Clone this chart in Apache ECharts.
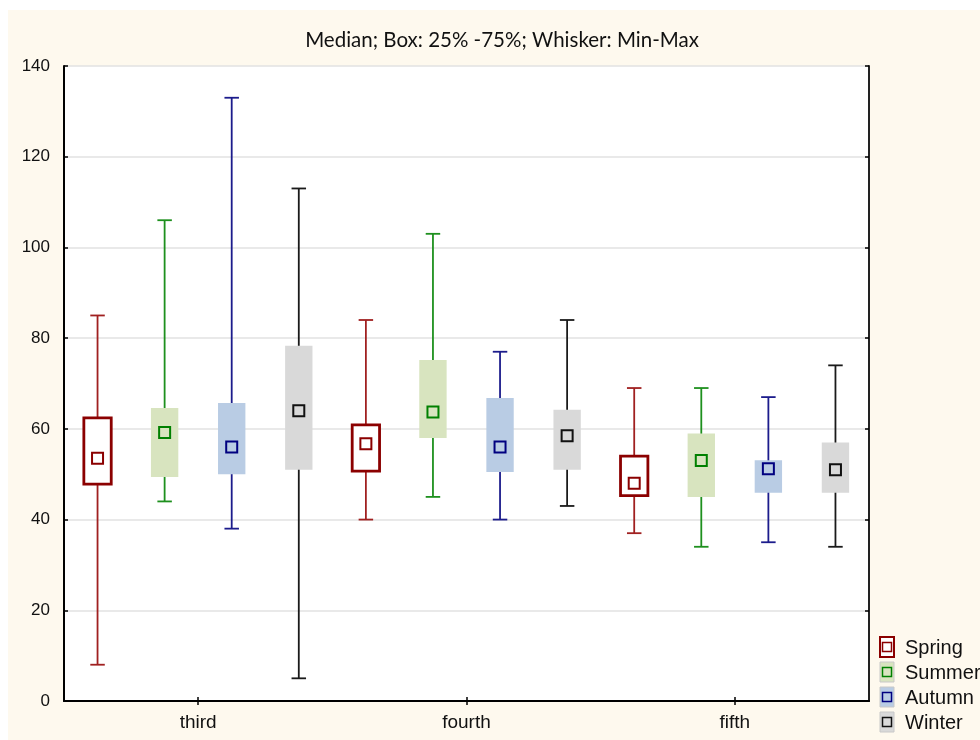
<!DOCTYPE html>
<html>
<head>
<meta charset="utf-8">
<script src="https://cdn.jsdelivr.net/npm/echarts@6/dist/echarts.min.js"></script>
<style>
  html, body { margin: 0; padding: 0; background: #ffffff; }
  #chart { width: 980px; height: 740px; }
</style>
</head>
<body>
<div id="chart"></div>
<script>
// Categories and tick labels
const categories = ['third', 'fourth', 'fifth'];
const yTicks = [0, 20, 40, 60, 80, 100, 120, 140];
const seasons = ['Spring', 'Summer', 'Autumn', 'Winter'];

// Each row: [min, q1, median, q3, max] for third, fourth, fifth
const spring = [
  [8, 47.8, 53.5, 62.4, 85],
  [40, 50.7, 56.7, 60.9, 84],
  [37, 45.3, 48, 54, 69]
];
const summer = [
  [44, 49.4, 59.2, 64.6, 106],
  [45, 58, 63.7, 75.2, 103],
  [34, 45, 53, 59, 69]
];
const autumn = [
  [38, 50, 56, 65.7, 133],
  [40, 50.5, 56, 66.8, 77],
  [35, 45.9, 51.2, 53.1, 67]
];
const winter = [
  [5, 51, 64, 78.3, 113],
  [43, 51, 58.5, 64.2, 84],
  [34, 45.9, 51, 57, 74]
];

const seriesData = [spring, summer, autumn, winter];

// Visual styles for each season
const styles = [
  { fill: '#ffffff', border: '#8b0000', borderWidth: 2.8, whisker: '#a02020', median: '#8b0000' },
  { fill: '#d8e4bf', border: null, borderWidth: 0, whisker: '#1e901e', median: '#008000' },
  { fill: '#b9cce4', border: null, borderWidth: 0, whisker: '#1c1c8c', median: '#000080' },
  { fill: '#d9d9d9', border: null, borderWidth: 0, whisker: '#1a1a1a', median: '#111111' }
];

function makeRenderer(idx) {
  const st = styles[idx];
  return function (params, api) {
    const cat = api.value(0);
    const band = api.size([1, 0])[0];
    const cx = api.coord([cat, 0])[0] + (idx - 1.5) * 0.25 * band;
    const yMin = api.coord([cat, api.value(1)])[1];
    const yQ1 = api.coord([cat, api.value(2)])[1];
    const yMed = api.coord([cat, api.value(3)])[1];
    const yQ3 = api.coord([cat, api.value(4)])[1];
    const yMax = api.coord([cat, api.value(5)])[1];
    const bw = band * 0.102;
    const cap = band * 0.054;
    const ms = 11;
    const lineStyle = { stroke: st.whisker, lineWidth: 1.8 };
    return {
      type: 'group',
      children: [
        { type: 'line', shape: { x1: cx, y1: yMax, x2: cx, y2: yMin }, style: lineStyle },
        { type: 'line', shape: { x1: cx - cap / 2, y1: yMax, x2: cx + cap / 2, y2: yMax }, style: lineStyle },
        { type: 'line', shape: { x1: cx - cap / 2, y1: yMin, x2: cx + cap / 2, y2: yMin }, style: lineStyle },
        {
          type: 'rect',
          shape: { x: cx - bw / 2, y: yQ3, width: bw, height: yQ1 - yQ3 },
          style: { fill: st.fill, stroke: st.border, lineWidth: st.borderWidth }
        },
        {
          type: 'rect',
          shape: { x: cx - ms / 2, y: yMed - ms / 2, width: ms, height: ms },
          style: { fill: st.fill, stroke: st.median, lineWidth: 2 }
        }
      ]
    };
  };
}

const series = seasons.map(function (name, i) {
  return {
    name: name,
    type: 'custom',
    renderItem: makeRenderer(i),
    encode: { x: 0, y: [1, 2, 3, 4, 5] },
    data: seriesData[i].map(function (row, c) { return [c].concat(row); }),
    z: 3
  };
});

// Legend built from season names and styles
const legendItems = [];
seasons.forEach(function (name, i) {
  const st = styles[i];
  const top = 637 + i * 25;
  legendItems.push({
    type: 'rect',
    shape: { x: 880, y: top, width: 14, height: 20 },
    style: { fill: st.fill, stroke: st.border || '#c8c8c8', lineWidth: st.border ? 2 : 1 }
  });
  legendItems.push({
    type: 'rect',
    shape: { x: 882.5, y: top + 5.5, width: 9, height: 9 },
    style: { fill: st.fill, stroke: st.median, lineWidth: 1.5 }
  });
  legendItems.push({
    type: 'text',
    x: 905, y: top + 11,
    style: { text: name, font: '20px "Liberation Sans", Arial, sans-serif', fill: '#111', textVerticalAlign: 'middle' }
  });
});

const chart = echarts.init(document.getElementById('chart'), null, { renderer: 'canvas' });
chart.setOption({
  backgroundColor: '#ffffff',
  animation: false,
  grid: {
    left: 64, right: 111, top: 66, bottom: 39,
    show: true, backgroundColor: '#ffffff', borderWidth: 0
  },
  graphic: [
    { type: 'rect', z: -10, silent: true, shape: { x: 8, y: 10, width: 972, height: 730 }, style: { fill: '#fef9ee' } },
    {
      type: 'text', x: 502, y: 40,
      style: {
        text: 'Median; Box: 25% -75%; Whisker: Min-Max',
        font: '20.5px Lato, "Open Sans", sans-serif', fill: '#111',
        textAlign: 'center', textVerticalAlign: 'middle'
      }
    }
  ].concat(legendItems),
  xAxis: [
    {
      type: 'category', data: categories, position: 'bottom',
      boundaryGap: true,
      axisLine: { lineStyle: { color: '#000', width: 2 } },
      axisTick: { show: true, inside: true, alignWithLabel: true, length: 4, lineStyle: { color: '#000', width: 1.5 } },
      axisLabel: { color: '#111', fontSize: 19, fontFamily: '"Liberation Sans", Arial, sans-serif', margin: 12 },
      splitLine: { show: false }
    },
    {
      type: 'category', data: categories, position: 'top',
      boundaryGap: true,
      axisLine: { lineStyle: { color: '#000', width: 1.5 } },
      axisTick: { show: true, inside: true, alignWithLabel: true, length: 4, lineStyle: { color: '#000', width: 1.5 } },
      axisLabel: { show: false },
      splitLine: { show: false }
    }
  ],
  yAxis: [
    {
      type: 'value', min: 0, max: 140, interval: 20, position: 'left',
      axisLine: { show: true, lineStyle: { color: '#000', width: 2 } },
      axisTick: { show: true, inside: true, length: 4, lineStyle: { color: '#000', width: 1.5 } },
      axisLabel: {
        color: '#111', fontSize: 17, fontFamily: '"Liberation Sans", Arial, sans-serif', margin: 14,
        formatter: function (v) { return yTicks.indexOf(v) >= 0 ? String(v) : ''; }
      },
      splitLine: { show: true, lineStyle: { color: '#e2e2e2', width: 1.5 } }
    },
    {
      type: 'value', min: 0, max: 140, interval: 20, position: 'right',
      axisLine: { show: true, lineStyle: { color: '#222', width: 2 } },
      axisTick: { show: true, inside: true, length: 4, lineStyle: { color: '#000', width: 1.5 } },
      axisLabel: { show: false },
      splitLine: { show: false }
    }
  ],
  series: series
});
</script>
</body>
</html>
